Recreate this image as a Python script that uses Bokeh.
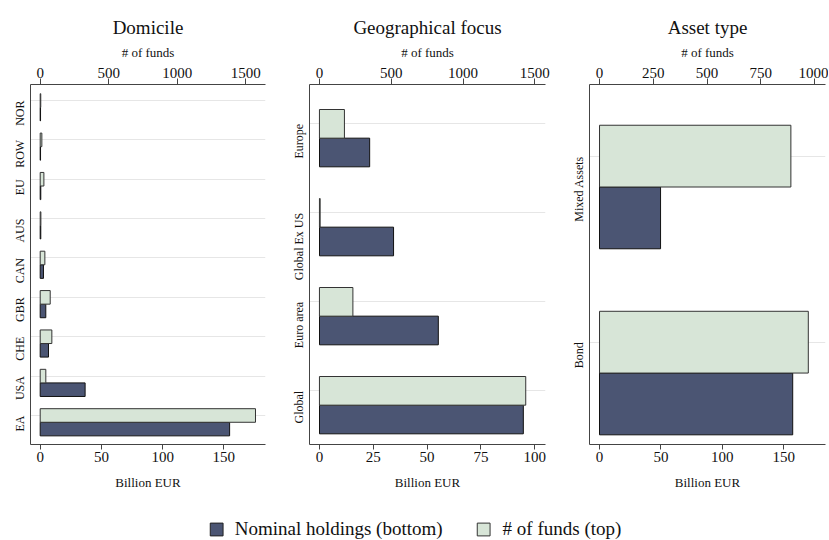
import math
from bokeh.plotting import figure
from bokeh.models import (Range1d, LinearAxis, FixedTicker, ColumnDataSource,
                          Legend, LegendItem)
from bokeh.layouts import row, column
from bokeh.embed import file_html
from bokeh.resources import INLINE

# ---------------- data ----------------
dom_cats = ["EA", "USA", "CHE", "GBR", "CAN", "AUS", "EU", "ROW", "NOR"]
dom_holdings = [154.7, 36.7, 6.8, 4.6, 2.7, 0.5, 0.5, 0.3, 0.3]      # Billion EUR
dom_funds = [1571, 41, 85, 73, 34, 5, 27, 12, 4]                      # # of funds

geo_cats = ["Global", "Euro area", "Global Ex US", "Europe"]
geo_holdings = [94.7, 55.2, 34.4, 23.3]
geo_funds = [1437, 233, 5, 174]

asset_cats = ["Bond", "Mixed Assets"]
asset_holdings = [157.3, 49.7]
asset_funds = [971, 890]

bn_ticks_1 = [0, 50, 100, 150]
fund_ticks_1 = [0, 500, 1000, 1500]
bn_ticks_2 = [0, 25, 50, 75, 100]
fund_ticks_2 = [0, 500, 1000, 1500]
bn_ticks_3 = [0, 50, 100, 150]
fund_ticks_3 = [0, 250, 500, 750, 1000]

# ---------------- style ----------------
FONT = "Liberation Serif"
DARK = "#4b5573"
LIGHT = "#d7e5d7"
AXIS_COL = "#444444"


def panel(title, cats, holdings, funds, x_bn, x_funds, y_rng, bn_ticks,
          fund_ticks, h, frame_w, bl, br):
    n = len(cats)
    pos = list(range(n))
    src = ColumnDataSource(dict(pos=pos, holdings=holdings, funds=funds,
                                pos_dark=[v - h for v in pos]))
    p = figure(frame_width=frame_w, frame_height=360, x_range=Range1d(*x_bn),
               y_range=Range1d(*y_rng), output_backend="svg",
               toolbar_location=None, title=title,
               min_border_left=bl, min_border_right=br,
               min_border_top=84, min_border_bottom=50,
               background_fill_color="white", border_fill_color="white")
    p.outline_line_color = None
    p.extra_x_ranges = {"funds": Range1d(*x_funds)}
    bottom = p.below[0]

    # title
    p.title.text_font = FONT
    p.title.text_font_size = "19px"
    p.title.text_font_style = "normal"
    p.title.align = "center"
    p.title.text_color = "#111111"
    p.title.standoff = 7

    # bars
    p.hbar(y="pos_dark", left=0, right="holdings", height=h, source=src,
           fill_color=DARK, line_color="#111111", line_width=1)
    p.hbar(y="pos", left=0, right="funds", height=h, source=src,
           x_range_name="funds", fill_color=LIGHT, line_color="#333333",
           line_width=1)

    # top axis (# of funds)
    top = LinearAxis(x_range_name="funds", axis_label="# of funds",
                     ticker=FixedTicker(ticks=fund_ticks))
    p.add_layout(top, "above")

    bottom.ticker = FixedTicker(ticks=bn_ticks)
    bottom.axis_label = "Billion EUR"

    for ax in (top, bottom):
        ax.axis_label_text_font = FONT
        ax.axis_label_text_font_size = "13px"
        ax.axis_label_text_font_style = "normal"
        ax.axis_label_text_color = "#111111"
        ax.major_label_text_font = FONT
        ax.major_label_text_font_size = "15px"
        ax.major_label_text_color = "#111111"
        ax.axis_line_color = AXIS_COL
        ax.major_tick_line_color = AXIS_COL
        ax.major_tick_out = 6
        ax.major_tick_in = 0
        ax.minor_tick_line_color = None
        ax.major_label_standoff = 2
    top.axis_label_standoff = 5
    top.major_label_standoff = 1
    bottom.axis_label_standoff = 10
    bottom.major_tick_out = 5

    # left categorical axis
    ya = p.yaxis[0]
    ya.ticker = FixedTicker(ticks=pos)
    ya.major_label_overrides = {i: c for i, c in zip(pos, cats)}
    ya.major_label_orientation = math.pi / 2
    ya.major_label_text_font = FONT
    ya.major_label_text_font_size = "12px"
    ya.major_label_text_color = "#111111"
    ya.major_tick_line_color = None
    ya.minor_tick_line_color = None
    ya.axis_line_color = AXIS_COL
    ya.major_label_standoff = 4

    p.xgrid.grid_line_color = None
    p.ygrid.grid_line_color = "#e6e6e6"
    p.ygrid.grid_line_width = 1
    return p


p1 = panel("Domicile", dom_cats, dom_holdings, dom_funds,
           (-7.9, 184), (-70.8, 1644), (-0.737, 8.406),
           bn_ticks_1, fund_ticks_1, 0.345, 235, 30, 14)
p2 = panel("Geographical focus", geo_cats, geo_holdings, geo_funds,
           (-4.65, 105), (-69.3, 1574.6), (-0.603, 3.442),
           bn_ticks_2, fund_ticks_2, 0.322, 236, 30, 14)
p3 = panel("Asset type", asset_cats, asset_holdings, asset_funds,
           (-8.15, 184), (-46.6, 1051), (-0.55, 1.385),
           bn_ticks_3, fund_ticks_3, 0.332, 236, 30, 3)

# ---------------- legend figure ----------------
lg = figure(width=829, height=46, output_backend="svg", toolbar_location=None,
            x_range=Range1d(0, 1), y_range=Range1d(0, 1),
            min_border=0, outline_line_color=None)
lg.axis.visible = False
lg.grid.visible = False
# legend-only renderers, kept far outside the visible ranges
hidden = ColumnDataSource(dict(y=[-50], left=[-50], right=[-49]))
r_dark = lg.hbar(y="y", right="right", left="left", height=0.01, source=hidden,
                 fill_color=DARK, line_color="#222222")
r_light = lg.hbar(y="y", right="right", left="left", height=0.01, source=hidden,
                  fill_color=LIGHT, line_color="#333333")
legend = Legend(items=[LegendItem(label="Nominal holdings (bottom)", renderers=[r_dark]),
                       LegendItem(label="# of funds (top)", renderers=[r_light])],
                orientation="horizontal", location="bottom_center",
                border_line_color=None, background_fill_alpha=0,
                label_text_font=FONT, label_text_font_size="19px",
                label_text_color="#111111", label_height=16,
                glyph_width=16, glyph_height=16, label_standoff=11,
                spacing=33, padding=0, margin=0)
lg.add_layout(legend, "center")

layout = column(row(p1, p2, p3, spacing=0), lg, spacing=0)
open("out.html", "w").write(file_html(layout, INLINE))
